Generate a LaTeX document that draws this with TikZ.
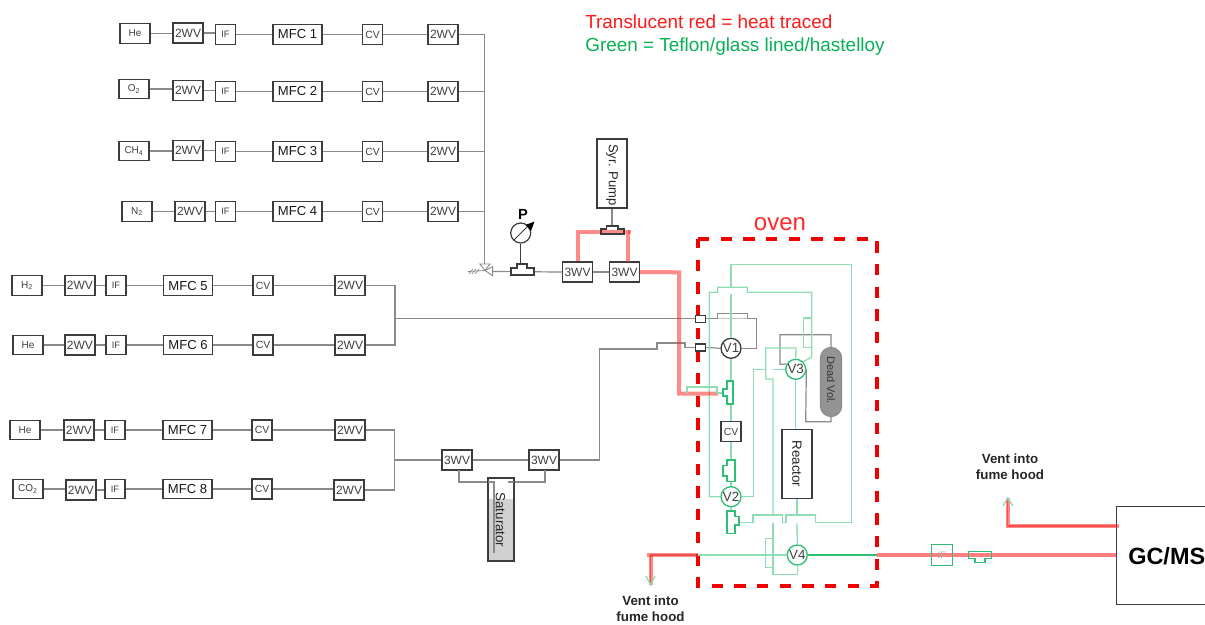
\documentclass[tikz,border=0pt]{standalone}
\usepackage{fontspec}
\setmainfont{Liberation Sans}
\usetikzlibrary{arrows.meta,shapes.misc}
\definecolor{boxc}{HTML}{3C3C3C}
\definecolor{pipec}{HTML}{8A8A8A}
\definecolor{glc}{HTML}{8FDDB2}
\definecolor{gdk}{HTML}{2FBF74}
\definecolor{hotc}{HTML}{FF2A2A}
\definecolor{legr}{HTML}{00B050}
\newcommand{\fs}[1]{\fontsize{#1}{#1}\selectfont}
\tikzset{
  x=0.75pt,y=-0.75pt,
  unit/.style={draw=boxc,line width=0.95pt,fill=white,inner sep=0pt,text=black!75},
  gas/.style={unit,minimum width=22.5pt,minimum height=14.6pt,font=\fs{7.5}},
  wvtwo/.style={unit,minimum width=22.5pt,minimum height=15pt,font=\fs{9}},
  iff/.style={unit,minimum width=15pt,minimum height=14.6pt,font=\fs{7}},
  mfc/.style={unit,minimum width=36.9pt,minimum height=14.6pt,font=\fs{9.8},text=black!90},
  cvv/.style={unit,minimum width=15pt,minimum height=15pt,font=\fs{7.8}},
  circv/.style={circle,draw=gdk,line width=1pt,fill=white,minimum size=15pt,inner sep=0pt,font=\fs{10},text=black!75},
  pipe/.style={draw=pipec,line width=0.9pt},
  gl/.style={draw=glc,line width=1pt},
  gd/.style={draw=gdk,line width=0.85pt},
  hot/.style={draw=hotc,line width=3pt,opacity=0.55},
  lbl/.style={inner sep=0pt,align=center,text=black!85,font=\fs{10}\bfseries},
  rot/.style={rotate=-90,inner sep=0pt},
  port/.style={draw=boxc,line width=0.95pt,fill=white,minimum width=8pt,minimum height=5.2pt,inner sep=0pt},
}
\newcommand{\link}[2]{\draw[pipe] (#1.east) -- (#1.east -| #2.west);}
\begin{document}
\begin{tikzpicture}
\useasboundingbox (0,0) rectangle (1205,624);
\fill[white] (0,0) rectangle (1205,624);

% ---------- gas rows ----------
\node[gas]   (g1) at (135,33.5) {He};
\node[wvtwo] (a1) at (188,33)   {2WV};
\node[iff]   (i1) at (225.5,34.5) {IF};
\node[mfc]   (m1) at (297.5,34.5) {MFC 1};
\node[cvv]   (c1) at (372.5,34.5) {CV};
\node[wvtwo] (b1) at (443,34.5) {2WV};

\node[gas]   (g2) at (134,89) {O\textsubscript{2}};
\node[wvtwo] (a2) at (188,90.5) {2WV};
\node[iff]   (i2) at (225.5,91.5) {IF};
\node[mfc]   (m2) at (297.5,91.5) {MFC 2};
\node[cvv]   (c2) at (372.5,91.5) {CV};
\node[wvtwo] (b2) at (443,91.5) {2WV};

\node[gas]   (g3) at (134,151) {CH\textsubscript{4}};
\node[wvtwo] (a3) at (188,150.5) {2WV};
\node[iff]   (i3) at (225.5,151.5) {IF};
\node[mfc]   (m3) at (297.5,151.5) {MFC 3};
\node[cvv]   (c3) at (372.5,151.5) {CV};
\node[wvtwo] (b3) at (443,151.5) {2WV};

\node[gas]   (g4) at (137,211.5) {N\textsubscript{2}};
\node[wvtwo] (a4) at (190,211.5) {2WV};
\node[iff]   (i4) at (225.5,211.5) {IF};
\node[mfc]   (m4) at (297.5,211.5) {MFC 4};
\node[cvv]   (c4) at (372.5,211.5) {CV};
\node[wvtwo] (b4) at (443,211.5) {2WV};

\node[gas]   (g5) at (27,285.5) {H\textsubscript{2}};
\node[wvtwo] (a5) at (80,285.5) {2WV};
\node[iff]   (i5) at (116,285.5) {IF};
\node[mfc]   (m5) at (188,285.5) {MFC 5};
\node[cvv]   (c5) at (263,285.5) {CV};
\node[wvtwo] (b5) at (350,285.5) {2WV};

\node[gas]   (g6) at (28,345) {He};
\node[wvtwo] (a6) at (80,345) {2WV};
\node[iff]   (i6) at (116,345) {IF};
\node[mfc]   (m6) at (188,345) {MFC 6};
\node[cvv]   (c6) at (263,345) {CV};
\node[wvtwo] (b6) at (350,345) {2WV};

\node[gas]   (g7) at (25,430) {He};
\node[wvtwo] (a7) at (79,430) {2WV};
\node[iff]   (i7) at (115,430) {IF};
\node[mfc]   (m7) at (187.5,430) {MFC 7};
\node[cvv]   (c7) at (262,430) {CV};
\node[wvtwo] (b7) at (350,430) {2WV};

\node[gas]   (g8) at (28,489) {CO\textsubscript{2}};
\node[wvtwo] (a8) at (81,490) {2WV};
\node[iff]   (i8) at (115,489) {IF};
\node[mfc]   (m8) at (187.5,489) {MFC 8};
\node[cvv]   (c8) at (262,489) {CV};
\node[wvtwo] (b8) at (349,490) {2WV};

\foreach \r in {1,...,8}{
  \link{g\r}{a\r}\link{a\r}{i\r}\link{i\r}{m\r}\link{m\r}{c\r}\link{c\r}{b\r}
}

% ---------- manifold 1 to valve ----------
\coordinate (vtop) at (484.7,264);
\coordinate (vmid) at (485,270.5);
\coordinate (vrgt) at (492.7,271.5);
\coordinate (vhat) at (468,271.5);
\draw[pipe] (b1.east) -- (484.7,34.5) -- (vtop);
\foreach \r in {2,3,4}{\draw[pipe] (b\r.east) -- (b\r.east -| vtop);}
\draw[pipe,line width=0.6pt] (vmid) -- (vhat);
\foreach \k in {471,474,477}{\draw[pipe,line width=0.5pt] (\k-2,274) -- (\k+2,269);}
\draw[pipec,line width=0.7pt,fill=white] (480,264) -- (490,264) -- (vmid) -- cycle;
\draw[pipec,line width=0.7pt,fill=white] (vmid) -- (492.7,266.7) -- (492.7,275.7) -- cycle;

% ---------- pressure gauge ----------
\node[wvtwo] (t1) at (577.5,272) {3WV};
\node[wvtwo] (t2) at (624.5,272) {3WV};
\node[circle,draw=boxc,line width=0.9pt,minimum size=15pt,inner sep=0pt] (gauge) at (520.7,233) {};
\node[lbl,font=\fs{11}\bfseries,text=black] (plab) at (523,214) {P};
\draw[boxc,line width=0.7pt] (514,240) -- (528,226);
\fill[black] (534.5,221.5) -- (525.5,225) -- (531,231) -- cycle;
\draw[pipe] (vrgt) -- (t1.west);
\draw[pipe] (t1.east) -- (t2.west);
\draw[boxc,line width=0.7pt] (gauge.south) -- (520.7,264);
\draw[boxc,line width=0.85pt,fill=white] (511,275) -- (511,268) -- (517,268) -- (517,264) -- (527,264) -- (527,268) -- (534,268) -- (534,275) -- cycle;

% ---------- syringe pump ----------
\node[unit,minimum width=22.5pt,minimum height=51.7pt] (syr) at (612,173.5) {};
\node[rot,font=\fs{9.8},text=black!85] (syrt) at (612,175) {Syr. Pump};
\coordinate (st) at (612,226);
\draw[pipe] (syr.south) -- (st);
\draw[hot] (t1.north) -- (577.5,232) -- (628,232) -- (628,262);
\draw[hot] (628,232) -- (631,232);
\draw[boxc,line width=0.85pt] (601,234) -- (601,229) -- (606.5,229) -- (606.5,226) -- (618,226) -- (618,229) -- (624,229) -- (624,234) -- cycle;

% ---------- oven ----------
\node[inner sep=0pt,text=hotc,font=\fs{18}] (oventxt) at (780,224) {oven};
\draw[draw=red!95!black,line width=2.4pt,dash pattern=on 8.5pt off 8.5pt] (698,239) -- (877,239) -- (877,586) -- (698,586) -- cycle;

% ---------- oven valves and parts ----------
\node[circv,draw=boxc] (V1) at (731,348.3) {V1};
\node[circv] (V2) at (731,496.7) {V2};
\node[circv] (V3) at (795.7,369.3) {V3};
\node[circv] (V4) at (797.3,555) {V4};
\node[cvv] (cvo) at (731,431.7) {CV};
\node[unit,minimum width=22.5pt,minimum height=52pt] (reac) at (797,464) {};
\node[rot,font=\fs{10},text=black!85] (react) at (797,464) {Reactor};
\node[rounded rectangle,rotate=90,draw=pipec,fill=black!42,line width=0.7pt,minimum height=16pt,minimum width=52pt,inner sep=0pt] (dead) at (831,382) {};
\node[rot,font=\fs{8.2},text=black!80] (deadt) at (831,380) {Dead Vol.};
\node[port] (p1) at (700.5,318.7) {};
\node[port] (p2) at (700.5,347.5) {};

% gray lines in and out of the oven
\draw[pipe] (b5.east) -- (395,285.5) -- (395,345) -- (b6.east);
\coordinate (jn1) at (395,318.7);
\draw[pipe] (jn1) -- (p1.west);
\draw[pipe] (p1.east) -- (717.7,318.7) -- (717.7,313.3) -- (747.3,313.3) -- (747.3,318.7) -- (756.7,318.7) -- (756.7,348.3) -- (V1.east);
\draw[draw=black!25,line width=0.85pt] (717.7,318.7) -- (747.3,318.7);
\draw[pipe] (p2.east) -- (V1.west);
\draw[pipe] (V3.150) -- (780,364.3) -- (780,334.7) -- (831,334.7) -- (dead.east);
\draw[pipe] (V3.east) -- (805.7,421.7) -- (831,421.7) -- (dead.west);

% ---------- saturator ----------
\node[wvtwo] (s1) at (457,460) {3WV};
\node[wvtwo] (s2) at (544,460) {3WV};
\node[draw=boxc,line width=0.95pt,fill=white,minimum width=19.5pt,minimum height=62pt,inner sep=0pt] (sat) at (501,519.5) {};
\fill[black!18] (488.6,499) rectangle (513.4,560.4);
\draw[pipe] (459,470) -- (459,482) -- (494,482) -- (494,553);
\draw[pipe] (545,470) -- (545,482) -- (508,482);
\node[rot,font=\fs{10},text=black!85] (satt) at (500.5,520) {Saturator};
\draw[boxc,line width=0.95pt] (sat.north west) rectangle (sat.south east);
\draw[pipe] (b7.east) -- (394.7,430) -- (394.7,490) -- (b8.east);
\coordinate (jn2) at (394.7,460);
\draw[pipe] (jn2) -- (s1.west);
\draw[pipe] (s1.east) -- (s2.west);
\draw[pipe] (s2.east) -- (599.5,460) -- (599.5,349) -- (657,349) -- (657,343) -- (685,343) -- (685,347.5) -- (p2.west);

% ---------- green circuit ----------
\draw[gl] (731,288) -- (731,264.7) -- (851.7,264.7) -- (851.7,522.7) -- (815.7,522.7) -- (815.7,515) -- (786,515) -- (786,522.7) -- (782.7,522.7) -- (782.7,515) -- (753,515) -- (753,522.7) -- (739,522.7);
\draw[gl] (V2.west) -- (709.3,496.7) -- (709.3,292.3) -- (717.7,292.3) -- (717.7,287.3) -- (747.3,287.3) -- (747.3,292.3) -- (811.7,292.3) -- (811.7,357) -- (V3.north east);
\draw[gl] (811.7,318) -- (803.3,318) -- (803.3,347.3) -- (811.7,347.3);
\draw[gl] (731,294) -- (V1.north);
\draw[gl] (V1.south) -- (731,381);
\draw[gl] (731,404) -- (cvo.north);
\draw[gl] (cvo.south) -- (731,460);
\draw[gl] (731,481.7) -- (V2.north);
\draw[gl] (V2.south) -- (731,511);
\draw[gl] (773,515) -- (773,379) -- (765.7,379) -- (765.7,348) -- (796,348) -- (V3.north);
\draw[gl] (765.7,369.3) -- (753.3,369.3) -- (753.3,496.7) -- (V2.east);
\draw[gl] (773,369.3) -- (V3.west);
\draw[gl] (V3.south) -- (reac.north -| V3.south);
\draw[gl] (reac.south) -- (797,515);
\draw[gl] (797,523.3) -- (V4.north);
\draw[gl] (773,523.3) -- (773,574.3) -- (797.3,574.3) -- (V4.south);
\draw[gl] (773,538.7) -- (765.7,538.7) -- (765.7,567.7) -- (773,567.7);
\draw[gl] (698,555) -- (V4.west);
% heat-traced feed
\draw[hot] (t2.east) -- (679,272.3) -- (679,393.5) -- (718,393.5);
\draw[gl] (687,393) -- (687,387) -- (717,387) -- (717,393);
\draw[gl] (717,393) -- (723,393);
% flanges
\draw[gd] (727,381) -- (733,381) -- (733,404) -- (727,404) -- (727,396) -- (723,396) -- (723,389) -- (727,389) -- cycle;
\draw[gd] (727,460) -- (735,460) -- (735,481.7) -- (727,481.7) -- (727,476) -- (723,476) -- (723,465.7) -- (727,465.7) -- cycle;
\draw[gd] (727,511) -- (735,511) -- (735,516.7) -- (739,516.7) -- (739,525) -- (735,525) -- (735,533.3) -- (727,533.3) -- cycle;

% ---------- outlet ----------
\node[unit,minimum width=90pt,minimum height=73.5pt,anchor=north west] (gc) at (1115.7,506) {};
\node[inner sep=0pt,anchor=base west,font=\fs{17.6}\bfseries,text=black] (gct) at (1128,564) {GC/MS};
\draw[draw=gdk,line width=0.85pt] (V4.east) -- (877,555);
\draw[hot,opacity=0.6] (877,554.5) -- (gc.west |- 0,554.5);
\node[draw=gdk,line width=0.9pt,minimum width=15.2pt,minimum height=15.2pt,inner sep=0pt,text=black!35,font=\fs{7}] (if9) at (942,555) {IF};
\draw[gd] (968.3,551.7) -- (991.7,551.7) -- (991.7,558.3) -- (985,558.3) -- (985,562.3) -- (975,562.3) -- (975,558.3) -- (968.3,558.3) -- cycle;

\coordinate (ventr) at (1007.7,498);
\draw[draw=hotc,line width=0.8pt,opacity=0.6] (gc.west |- 0,526) -- (1007.7,526) -- (ventr);
\draw[hot] (1119,526) -- (1007.7,526) -- (ventr);
\draw[gl] (1003,506) -- (ventr) -- (1013,506);
\node[lbl] (vt1) at (1010,467) {Vent into\\[2pt]fume hood};

\coordinate (ventl) at (650.7,585);
\draw[draw=hotc!60!black,line width=0.8pt,opacity=0.5] (698,555) -- (650.7,555) -- (ventl);
\draw[hot] (698,555) -- (646.7,555);
\draw[hot] (650.7,555) -- (ventl);
\draw[gl] (646,576) -- (ventl) -- (655,576);
\node[lbl] (vt2) at (650.5,608.5) {Vent into\\[2pt]fume hood};

% ---------- legend ----------
\node[inner sep=0pt,anchor=west,font=\fs{14.2},text=red!90!white] (leg1) at (585,22) {Translucent red = heat traced};
\node[inner sep=0pt,anchor=west,font=\fs{14.2},text=legr!85!gdk] (leg2) at (585,47) {Green = Teflon/glass lined/hastelloy};
\end{tikzpicture}
\end{document}
